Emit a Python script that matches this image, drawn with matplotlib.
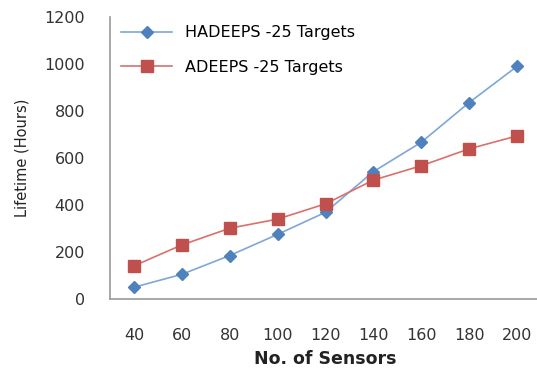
import matplotlib
matplotlib.use("Agg")
import matplotlib.pyplot as plt

sensors = [40, 60, 80, 100, 120, 140, 160, 180, 200]
hadeeps = [50, 105, 185, 275, 369, 542, 667, 836, 990]
adeeps = [141, 230, 301, 340, 405, 506, 567, 639, 694]

plt.rcParams['font.family'] = ['DejaVu Sans']

fig = plt.figure(figsize=(5.37, 3.69), dpi=100)
ax = fig.add_axes([110 / 537, 1 - 299 / 369, 431 / 537, 282 / 369])

pos = list(range(len(sensors)))
ax.plot(pos, hadeeps, color='#7EA6DA', lw=1.2, marker='D', ms=6,
        mfc='#4F81BD', mec='#4F81BD', label='HADEEPS -25 Targets')
ax.plot(pos, adeeps, color='#D9706C', lw=1.2, marker='s', ms=9,
        mfc='#C0504D', mec='#C0504D', label='ADEEPS -25 Targets')

ax.set_xlim(-0.5, len(sensors) - 0.5)
ax.set_ylim(0, 1200)
ax.set_yticks(range(0, 1201, 200))
ax.set_xticks(pos)
ax.set_xticklabels([str(s) for s in sensors])

for side in ['top', 'right']:
    ax.spines[side].set_visible(False)
for side in ['left', 'bottom']:
    ax.spines[side].set_color('#999999')
    ax.spines[side].set_linewidth(1.2)
ax.tick_params(length=0, labelsize=11.5, colors='#333333')
ax.tick_params(axis='x', pad=21)
ax.tick_params(axis='y', pad=18)

ax.set_xlabel('No. of Sensors', fontsize=12.5, fontweight='bold', color='#222222', labelpad=5)
ax.set_ylabel('Lifetime (Hours)', fontsize=10.5, fontweight='medium', color='#222222', labelpad=11)

ax.legend(loc='upper left', frameon=False, fontsize=11.5, handlelength=3.2,
          labelspacing=1.2, bbox_to_anchor=(0.0, 1.01), borderaxespad=0.3)

fig.savefig('out.png', dpi=100)
